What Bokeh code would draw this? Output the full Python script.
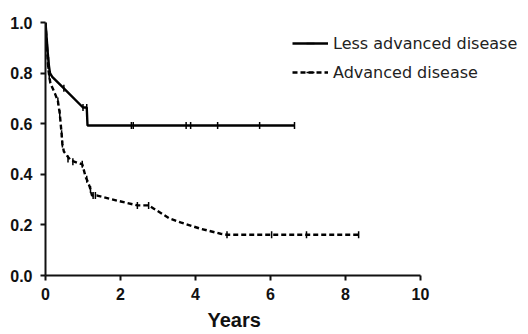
import math
from bokeh.plotting import figure
from bokeh.models import Range1d, Legend, LegendItem, Title, CustomJSTickFormatter
from bokeh.embed import file_html
from bokeh.resources import INLINE

# Less advanced disease (Kaplan-Meier path)
t_less = [0, 0.03, 0.06, 0.09, 0.12, 0.18, 0.49, 1.0, 1.1, 1.12, 6.64]
s_less = [1.0, 0.94, 0.88, 0.83, 0.80, 0.785, 0.74, 0.664, 0.664, 0.593, 0.593]
cens_less_t = [0.05, 0.08, 0.49, 1.0, 1.1, 2.29, 2.34, 3.75, 3.87, 4.59, 5.71, 6.64]
cens_less_s = [0.90, 0.85, 0.74, 0.664, 0.664, 0.593, 0.593, 0.593, 0.593, 0.593, 0.593, 0.593]

# Advanced disease
t_adv = [0, 0.02, 0.04, 0.06, 0.08, 0.1, 0.13, 0.25, 0.33, 0.38, 0.43, 0.45, 0.49,
         0.67, 0.85, 0.98, 1.07, 1.13, 1.18, 1.24, 1.38, 1.91, 2.45, 2.75, 2.88,
         3.3, 3.6, 4.13, 4.67, 4.84, 8.35]
s_adv = [1.0, 0.95, 0.9, 0.85, 0.81, 0.79, 0.76, 0.72, 0.69, 0.64, 0.56, 0.52, 0.49,
         0.455, 0.445, 0.44, 0.39, 0.37, 0.35, 0.316, 0.316, 0.296, 0.277, 0.277, 0.265,
         0.226, 0.21, 0.185, 0.165, 0.161, 0.161]
cens_adv_t = [0.07, 0.1, 0.33, 0.38, 0.43, 0.45, 0.6, 0.73, 0.98, 1.1, 1.2, 1.27, 1.33,
              2.45, 2.75, 4.84, 6.03, 6.96, 8.35]
cens_adv_s = [0.83, 0.79, 0.69, 0.64, 0.56, 0.52, 0.46, 0.45, 0.44, 0.38, 0.34, 0.316, 0.316,
              0.277, 0.277, 0.161, 0.161, 0.161, 0.161]

x_ticks = [0, 2, 4, 6, 8, 10]
y_ticks = [0.0, 0.2, 0.4, 0.6, 0.8, 1.0]
series_names = ["Less advanced disease", "Advanced disease"]
x_label = "Years"

p = figure(width=528, height=334, output_backend="svg", toolbar_location=None,
           x_range=Range1d(0, 12.88), y_range=Range1d(0, 1.0),
           min_border_left=45, min_border_right=0, min_border_top=22, min_border_bottom=59)
p.outline_line_color = None
p.grid.visible = False
p.background_fill_color = "white"

l1 = p.line(t_less, s_less, line_color="black", line_width=2.4)
c1 = p.scatter(cens_less_t, cens_less_s, marker="dash", angle=math.pi / 2, size=7,
               line_color="black", line_width=1.5)
l2 = p.line(t_adv, s_adv, line_color="black", line_width=2.4, line_dash="5 3")
c2 = p.scatter(cens_adv_t, cens_adv_s, marker="dash", angle=math.pi / 2, size=7,
               line_color="black", line_width=1.5)

for ax in (p.xaxis[0], p.yaxis[0]):
    ax.axis_line_width = 2
    ax.axis_line_color = "#111111"
    ax.major_tick_line_width = 2
    ax.major_tick_line_color = "#111111"
    ax.major_tick_out = 5
    ax.major_tick_in = 0
    ax.minor_tick_line_color = None
    ax.major_label_text_font = "Liberation Sans"
    ax.major_label_text_font_style = "bold"
    ax.major_label_text_font_size = "16px"
    ax.major_label_text_color = "#111111"

p.xaxis.bounds = (0, 10)
p.yaxis.bounds = (0, 1)
p.xaxis.ticker = x_ticks
p.yaxis.ticker = y_ticks
p.yaxis.formatter = CustomJSTickFormatter(code="return tick.toFixed(1);")
p.xaxis.major_label_standoff = 7
p.yaxis.major_label_standoff = 8

title = Title(text=x_label, align="left", offset=162, standoff=8,
              text_font="Liberation Sans", text_font_style="bold",
              text_font_size="20px", text_color="#111111")
p.add_layout(title, "below")

legend = Legend(items=[LegendItem(label=series_names[0], renderers=[l1, c1]),
                       LegendItem(label=series_names[1], renderers=[l2, c2])],
                location=(247, 193), orientation="vertical",
                glyph_width=36, glyph_height=20, label_height=20, spacing=9,
                padding=0, margin=0, label_standoff=5,
                label_text_font="DejaVu Sans", label_text_font_size="16px",
                label_text_color="#222222",
                border_line_color=None, background_fill_alpha=0)
p.add_layout(legend, "center")

open("out.html", "w").write(file_html(p, INLINE))
